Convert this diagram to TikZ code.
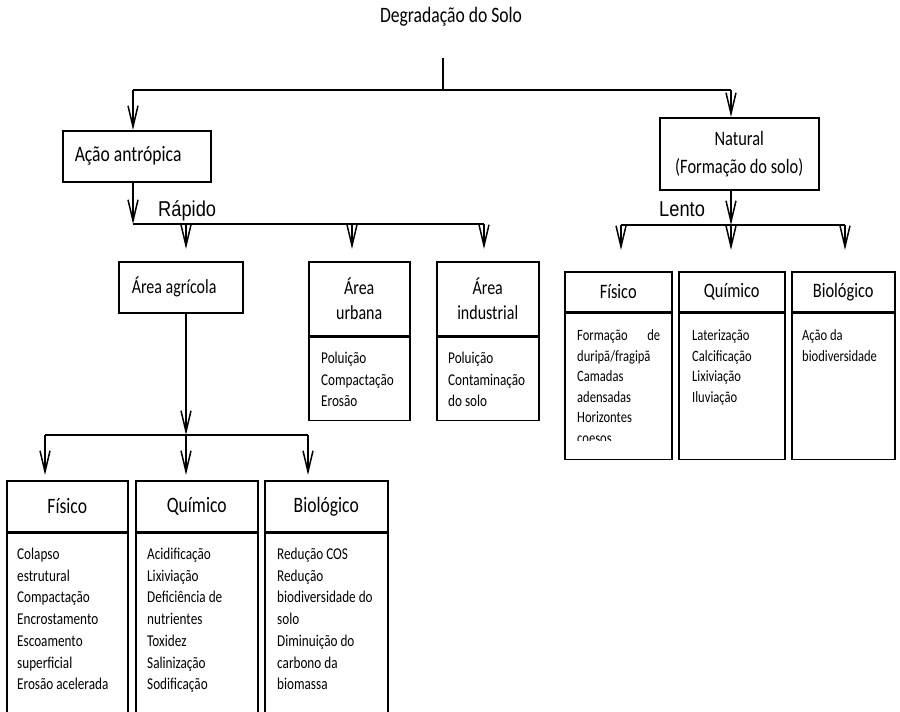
\documentclass[tikz,border=0pt]{standalone}
\usepackage{fontspec}
\setmainfont{Carlito}[FakeStretch=0.8]
\newfontfamily\arialfont{Liberation Sans}[FakeStretch=0.85]
\usetikzlibrary{arrows.meta, positioning}

\begin{document}
\begin{tikzpicture}[x=1pt, y=-1pt,
    box/.style={draw, line width=1.5pt, inner sep=0pt},
    head/.style={box, align=center},
    items/.style={inner sep=0pt, align=flush left, anchor=base west},
    arr/.style={line width=1.5pt, -{Straight Barb[length=21pt,width=10pt]}},
    wire/.style={line width=1.5pt}]
    \useasboundingbox (0,0) rectangle (900,712);

    \node (title) [anchor=base, font=\fontsize{22}{26}\selectfont] at (451,23) {Degradação do Solo};

    \coordinate (top) at (443,58);
    \coordinate (root) at (443,90);
    \coordinate (t1) at (133,90);
    \coordinate (t2) at (731,90);

    % first level
    \node (acao) [box, anchor=north west, minimum height=51pt, inner xsep=12pt, text width=124pt, align=flush left, font=\fontsize{22}{26}\selectfont] at (62,130) {Ação antrópica};
    \node (natural) [head, anchor=north west, minimum width=159pt, minimum height=72pt, font=\fontsize{20.5}{28}\selectfont] at (659,117) {Natural\\(Formação do solo)};

    \node (rapido) [anchor=base west, inner sep=0pt, font=\arialfont\fontsize{21.5}{24}\selectfont] at (158,216) {Rápido};
    \node (lento) [anchor=base west, inner sep=0pt, font=\arialfont\fontsize{21.5}{24}\selectfont] at (659,216) {Lento};

    \coordinate (r0) at (133,224);
    \coordinate (r1) at (186,224);
    \coordinate (r2) at (352,224);
    \coordinate (r3) at (484,224);
    \coordinate (l0) at (621,225);
    \coordinate (l1) at (731,225);
    \coordinate (l2) at (845,225);

    % Rápido branch
    \node (agri) [box, anchor=north west, minimum height=51pt, inner xsep=13pt, text width=98pt, align=flush left, font=\fontsize{20}{24}\selectfont] at (118,261) {Área agrícola};

    \node (urbH) [head, anchor=north west, minimum width=101pt, minimum height=74pt, font=\fontsize{20}{25}\selectfont] at (308,261) {Área\\urbana};
    \node (urbB) [box, anchor=north, minimum width=101pt, minimum height=83pt] at (urbH.south) {};
    \node (urbT) [items, text width=85pt, font=\fontsize{16.5}{21.5}\selectfont] at ([xshift=13pt,yshift=-27pt]urbB.north west) {Poluição\\Compactação\\Erosão};

    \node (indH) [head, anchor=north west, minimum width=102pt, minimum height=74pt, font=\fontsize{20}{25}\selectfont] at (436,261) {Área\\industrial};
    \node (indB) [box, anchor=north, minimum width=102pt, minimum height=83pt] at (indH.south) {};
    \node (indT) [items, text width=88pt, font=\fontsize{16.5}{21.5}\selectfont] at ([xshift=12pt,yshift=-27pt]indB.north west) {Poluição\\Contaminação\\do solo};

    % Lento branch
    \node (fisRh) [head, anchor=north west, minimum width=107pt, minimum height=40pt, font=\fontsize{20.5}{25}\selectfont] at (564,271) {Físico};
    \node (fisRb) [box, anchor=north, minimum width=107pt, minimum height=146pt] at (fisRh.south) {};
    \begin{scope}
        \clip (fisRb.north west) rectangle ([yshift=20pt]fisRb.south east);
        \node (fisRt) [items, text width=83pt, font=\fontsize{15.7}{20.5}\selectfont] at ([xshift=13pt,yshift=-28pt]fisRb.north west) {Formação\hfill de\\duripã/fragipã\\Camadas\\adensadas\\Horizontes\\coesos};
    \end{scope}

    \node (quiRh) [head, anchor=north west, minimum width=106pt, minimum height=40pt, font=\fontsize{20.5}{25}\selectfont] at (678,271) {Químico};
    \node (quiRb) [box, anchor=north, minimum width=106pt, minimum height=146pt] at (quiRh.south) {};
    \node (quiRt) [items, text width=85pt, font=\fontsize{15.7}{20.5}\selectfont] at ([xshift=14pt,yshift=-28pt]quiRb.north west) {Laterização\\Calcificação\\Lixiviação\\Iluviação};

    \node (bioRh) [head, anchor=north west, minimum width=103pt, minimum height=40pt, font=\fontsize{20.5}{25}\selectfont] at (791,271) {Biológico};
    \node (bioRb) [box, anchor=north, minimum width=103pt, minimum height=146pt] at (bioRh.south) {};
    \node (bioRt) [items, text width=88pt, font=\fontsize{15.7}{20.5}\selectfont] at ([xshift=11pt,yshift=-28pt]bioRb.north west) {Ação da\\biodiversidade};

    % agricultural area
    \coordinate (a0) at (45,435);
    \coordinate (a1) at (186,435);
    \coordinate (a2) at (308,435);

    \node (fisAh) [head, anchor=north west, minimum width=121pt, minimum height=51pt, font=\fontsize{22}{26}\selectfont] at (6,480) {Físico};
    \node (fisAb) [box, anchor=north, minimum width=121pt, minimum height=179pt] at (fisAh.south) {};
    \node (fisAt) [items, text width=105pt, font=\fontsize{16.5}{21.7}\selectfont] at ([xshift=11pt,yshift=-27pt]fisAb.north west) {Colapso\\estrutural\\Compactação\\Encrostamento\\Escoamento\\superficial\\Erosão acelerada};

    \node (quiAh) [head, anchor=north west, minimum width=122pt, minimum height=51pt, font=\fontsize{22}{26}\selectfont] at (135,480) {Químico};
    \node (quiAb) [box, anchor=north, minimum width=122pt, minimum height=179pt] at (quiAh.south) {};
    \node (quiAt) [items, text width=105pt, font=\fontsize{16.5}{21.7}\selectfont] at ([xshift=12pt,yshift=-27pt]quiAb.north west) {Acidificação\\Lixiviação\\Deficiência de\\nutrientes\\Toxidez\\Salinização\\Sodificação};

    \node (bioAh) [head, anchor=north west, minimum width=123pt, minimum height=51pt, font=\fontsize{22}{26}\selectfont] at (264,480) {Biológico};
    \node (bioAb) [box, anchor=north, minimum width=123pt, minimum height=179pt] at (bioAh.south) {};
    \node (bioAt) [items, text width=105pt, font=\fontsize{16.5}{21.7}\selectfont] at ([xshift=13pt,yshift=-27pt]bioAb.north west) {Redução COS\\Redução\\biodiversidade do\\solo\\Diminuição do\\carbono da\\biomassa};

    % connectors
    \draw [wire] (top) -- (root);
    \draw [wire] (t1) -- (t2);
    \draw [arr] (t1) -- (t1 |- acao.north);
    \draw [arr] (t2) -- (t2 |- natural.north);

    \draw [arr] (acao.south -| r0) -- (r0);
    \draw [wire] (r0) -- (r3);
    \draw [arr, shorten >=12pt] (r1) -- (r1 |- agri.north);
    \draw [arr, shorten >=12pt] (r2) -- (r2 |- urbH.north);
    \draw [arr, shorten >=12pt] (r3) -- (r3 |- indH.north);

    \draw [arr] (natural.south -| l1) -- (l1);
    \draw [wire] (l0) -- (l2);
    \draw [arr, shorten >=21pt] (l0) -- (l0 |- fisRh.north);
    \draw [arr, shorten >=21pt] (l1) -- (l1 |- quiRh.north);
    \draw [arr, shorten >=21pt] (l2) -- (l2 |- bioRh.north);

    \draw [arr] (agri.south -| a1) -- (a1);
    \draw [wire] (a0) -- (a2);
    \draw [arr, shorten >=5pt] (a0) -- (a0 |- fisAh.north);
    \draw [arr, shorten >=5pt] (a1) -- (a1 |- quiAh.north);
    \draw [arr, shorten >=5pt] (a2) -- (a2 |- bioAh.north);
\end{tikzpicture}
\end{document}
